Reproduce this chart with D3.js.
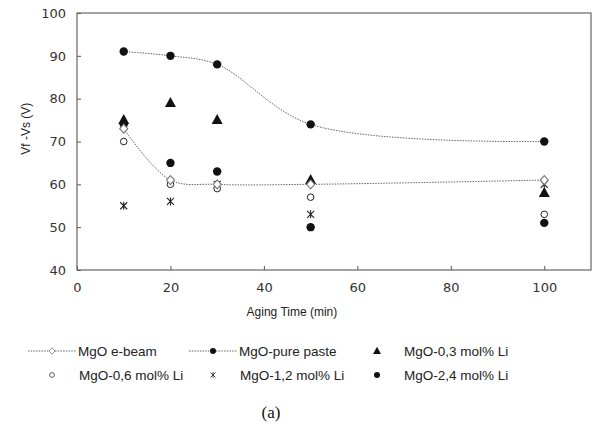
<!DOCTYPE html>
<html>
<head>
<meta charset="utf-8">
<script src="https://cdn.jsdelivr.net/npm/d3@7"></script>
<style>
  body { margin: 0; background: #fff; }
  svg { display: block; }
</style>
</head>
<body>
<div class="chart"></div>
<script>
var svgWidth = 599;
var svgHeight = 426;

var margin = { top: 13, right: 8, bottom: 156, left: 77 };
var width = svgWidth - margin.left - margin.right;
var height = svgHeight - margin.top - margin.bottom;

// data
var agingTime = [10, 20, 30, 50, 100];
var eBeam = [73, 61, 60, 60, 61];
var purePaste = [91, 90, 88, 74, 70];
var li03 = [75, 79, 75, 61, 58];
var li06 = [70, 60, 59, 57, 53];
var li12 = [55, 56, 60, 53, 60];
var li24 = [74, 65, 63, 50, 51];

var seriesNames = ["MgO e-beam", "MgO-pure paste", "MgO-0,3 mol% Li",
                   "MgO-0,6 mol% Li", "MgO-1,2 mol% Li", "MgO-2,4 mol% Li"];
var xTicks = [0, 20, 40, 60, 80, 100];
var yTicks = [40, 50, 60, 70, 80, 90, 100];

var series = [
  { name: seriesNames[0], values: eBeam, marker: "diamond", line: true },
  { name: seriesNames[1], values: purePaste, marker: "dot", line: true },
  { name: seriesNames[2], values: li03, marker: "triangle", line: false },
  { name: seriesNames[3], values: li06, marker: "circle", line: false },
  { name: seriesNames[4], values: li12, marker: "star", line: false },
  { name: seriesNames[5], values: li24, marker: "dot", line: false }
];

var svg = d3.select(".chart")
  .append("svg")
  .attr("width", svgWidth)
  .attr("height", svgHeight);

var chartGroup = svg.append("g")
  .attr("transform", `translate(${margin.left}, ${margin.top})`);

var xScale = d3.scaleLinear().domain([0, 110]).range([0, width]);
var yScale = d3.scaleLinear().domain([40, 100]).range([height, 0]);

// axes, ticks pointing inward
var bottomAxis = d3.axisBottom(xScale).tickValues(xTicks).tickSize(-4).tickPadding(13);
var leftAxis = d3.axisLeft(yScale).tickValues(yTicks).tickSize(-4).tickPadding(11);

function styleAxis(g) {
  g.select(".domain").remove();
  g.selectAll(".tick line").attr("stroke", "#555");
  g.selectAll(".tick text")
    .attr("fill", "#333")
    .style("font-family", "DejaVu Sans, sans-serif")
    .style("font-size", "13px");
}

chartGroup.append("g")
  .attr("transform", `translate(0, ${height})`)
  .call(bottomAxis)
  .call(styleAxis);

chartGroup.append("g")
  .call(leftAxis)
  .call(styleAxis);

chartGroup.append("rect")
  .attr("width", width)
  .attr("height", height)
  .attr("fill", "none")
  .attr("stroke", "#666")
  .attr("stroke-width", 1.2);

// marker drawing
function drawMarker(g, type, x, y) {
  if (type === "dot") {
    g.append("circle").attr("cx", x).attr("cy", y).attr("r", 4.2).attr("fill", "#111");
  } else if (type === "circle") {
    g.append("circle").attr("cx", x).attr("cy", y).attr("r", 3.3)
      .attr("fill", "#fff").attr("stroke", "#222").attr("stroke-width", 1);
  } else if (type === "triangle") {
    g.append("path").attr("d", `M${x},${y - 6}L${x + 5.5},${y + 4}L${x - 5.5},${y + 4}Z`)
      .attr("fill", "#111");
  } else if (type === "diamond") {
    g.append("path").attr("d", `M${x},${y - 4.5}L${x + 4},${y}L${x},${y + 4.5}L${x - 4},${y}Z`)
      .attr("fill", "#fff").attr("stroke", "#777").attr("stroke-width", 1.1);
  } else if (type === "star") {
    var s = 3.5;
    g.append("path")
      .attr("d", `M${x - s},${y - s}L${x + s},${y + s}M${x - s},${y + s}L${x + s},${y - s}M${x},${y - s - 0.5}L${x},${y + s + 0.5}`)
      .attr("stroke", "#222").attr("stroke-width", 1.1).attr("fill", "none");
  }
}

var line = d3.line()
  .x(function(d, i) { return xScale(agingTime[i]); })
  .y(function(d) { return yScale(d); })
  .curve(d3.curveCatmullRom.alpha(0.5));

series.forEach(function(s) {
  if (s.line) {
    chartGroup.append("path")
      .attr("d", line(s.values))
      .attr("fill", "none")
      .attr("stroke", "#666")
      .attr("stroke-width", 1)
      .attr("stroke-dasharray", "1.5,1.2");
  }
});

// scatter markers, drawn so the e-beam diamonds sit on top like in the picture
[5, 4, 3, 2, 1, 0].forEach(function(k) {
  var s = series[k];
  var g = chartGroup.append("g");
  s.values.forEach(function(v, i) {
    drawMarker(g, s.marker, xScale(agingTime[i]), yScale(v));
  });
});

// axis labels
svg.append("text")
  .attr("x", margin.left + xScale(46))
  .attr("y", 316)
  .attr("text-anchor", "middle")
  .attr("fill", "#222")
  .style("font-family", "Liberation Sans, Arial, sans-serif")
  .style("font-size", "12px")
  .text("Aging Time (min)");

svg.append("text")
  .attr("transform", `translate(30, ${margin.top + yScale(73)}) rotate(-90)`)
  .attr("text-anchor", "middle")
  .attr("fill", "#222")
  .style("font-family", "Liberation Sans, Arial, sans-serif")
  .style("font-size", "12px")
  .text("Vf -Vs (V)");

// legend, 3 columns x 2 rows
var legendCols = [52, 213, 377];
var legendRows = [351, 375];
var legend = svg.append("g");
series.forEach(function(s, i) {
  var cx = legendCols[i % 3];
  var cy = legendRows[Math.floor(i / 3)];
  if (s.line) {
    legend.append("line")
      .attr("x1", cx - 24).attr("x2", cx + 24)
      .attr("y1", cy).attr("y2", cy)
      .attr("stroke", "#666").attr("stroke-width", 1)
      .attr("stroke-dasharray", "1.5,1.2");
  }
  // legend markers are a bit smaller than in the plot
  var mg = legend.append("g")
    .attr("transform", `translate(${cx},${cy}) scale(0.72) translate(${-cx},${-cy})`);
  drawMarker(mg, s.marker, cx, cy);
  legend.append("text")
    .attr("x", s.line ? cx + 26 : cx + 27)
    .attr("y", cy)
    .attr("dy", "0.35em")
    .attr("fill", "#222")
    .style("font-family", "Liberation Sans, Arial, sans-serif")
    .style("font-size", "13.5px")
    .text(s.name);
});

svg.append("text")
  .attr("x", 271)
  .attr("y", 412)
  .attr("dy", "0.35em")
  .attr("text-anchor", "middle")
  .attr("fill", "#111")
  .style("font-family", "Liberation Serif, Times New Roman, serif")
  .style("font-size", "17px")
  .text("(a)");
</script>
</body>
</html>
